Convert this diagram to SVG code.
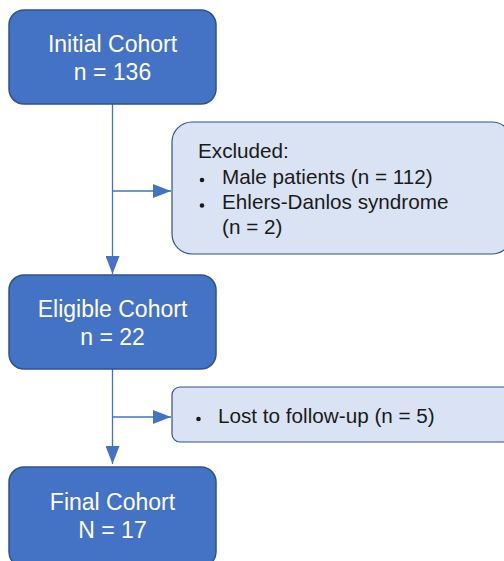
<svg xmlns="http://www.w3.org/2000/svg" width="504" height="561" viewBox="0 0 504 561">
<style>
.main{fill:#4472c4;stroke:#2f528f;stroke-width:1.5}
.side{fill:#dae3f3;stroke:#2f528f;stroke-width:1.2}
.mt{font-family:"Liberation Sans",Arial,sans-serif;font-size:23px;fill:#ffffff;text-anchor:middle}
.st{font-family:"Liberation Sans",Arial,sans-serif;font-size:20.7px;fill:#1a1a1a}
.ln{stroke:#4472c4;stroke-width:1.3;fill:none}
.dot{fill:#1a1a1a}
</style>
<defs>
<marker id="ah" markerWidth="18" markerHeight="14" refX="18" refY="7" orient="auto" markerUnits="userSpaceOnUse">
<path d="M0,0 L18,7 L0,14 Z" fill="#4472c4"/>
</marker>
</defs>
<g id="connectors">
<path class="ln" d="M112.5,104 L112.5,274" marker-end="url(#ah)"/>
<path class="ln" d="M112.5,191 L171,191" marker-end="url(#ah)"/>
<path class="ln" d="M112.5,369 L112.5,464" marker-end="url(#ah)"/>
<path class="ln" d="M112.5,417 L171,417" marker-end="url(#ah)"/>
</g>
<g id="initial">
<rect class="main" x="9" y="10" width="207" height="94" rx="15"/>
<text class="mt" x="112.5" y="52">Initial Cohort</text>
<text class="mt" x="112.5" y="80">n = 136</text>
</g>
<g id="excluded">
<rect class="side" x="172" y="122" width="340" height="132" rx="20"/>
<text class="st" x="198" y="158">Excluded:</text>
<circle class="dot" cx="202" cy="180" r="2.3"/>
<text class="st" x="222" y="184">Male patients (n = 112)</text>
<circle class="dot" cx="202" cy="205.5" r="2.3"/>
<text class="st" x="222" y="209">Ehlers-Danlos syndrome</text>
<text class="st" x="222" y="234">(n = 2)</text>
</g>
<g id="eligible">
<rect class="main" x="9" y="275" width="207" height="94" rx="15"/>
<text class="mt" x="112.5" y="317">Eligible Cohort</text>
<text class="mt" x="112.5" y="345">n = 22</text>
</g>
<g id="lost">
<rect class="side" x="172" y="387" width="340" height="55" rx="8"/>
<circle class="dot" cx="198.5" cy="419" r="2.3"/>
<text class="st" x="218" y="423">Lost to follow-up (n = 5)</text>
</g>
<g id="final">
<rect class="main" x="9" y="467" width="207" height="100" rx="15"/>
<text class="mt" x="112.5" y="510">Final Cohort</text>
<text class="mt" x="112.5" y="538">N = 17</text>
</g>
</svg>
